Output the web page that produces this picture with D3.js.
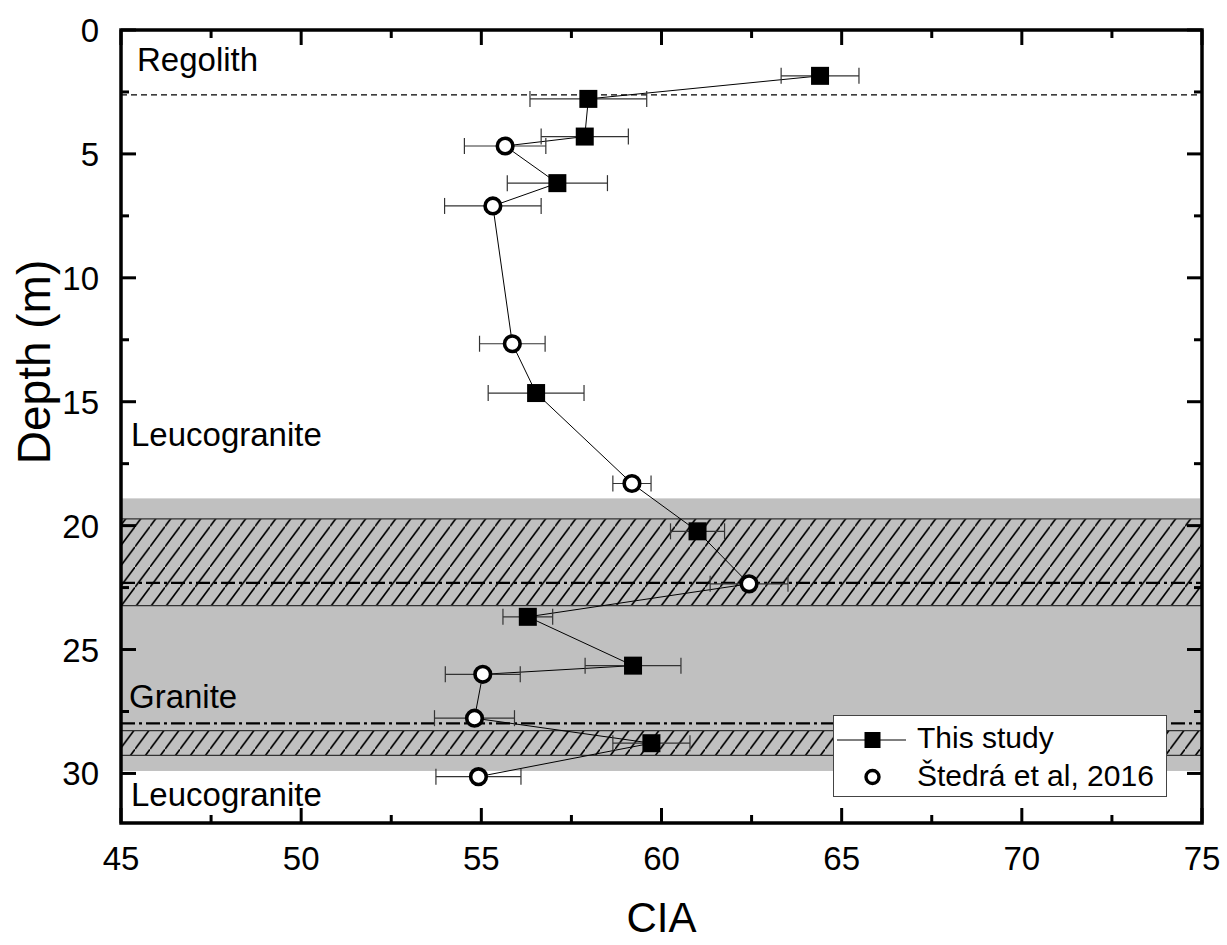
<!DOCTYPE html>
<html><head><meta charset="utf-8">
<script src="https://cdn.jsdelivr.net/npm/d3@7"></script>
<style>
html,body{margin:0;padding:0;background:#fff;}
svg text{font-family:"Liberation Sans",Arial,sans-serif;fill:#000;}
</style></head>
<body>
<svg id="chart" width="1227" height="945"></svg>
<script>
// ---- data ----
const thisStudyCIA   = [64.4, 57.97, 57.87, 57.11, 56.52, 61.0, 56.29, 59.21, 59.72];
const thisStudyDepth = [1.85, 2.78, 4.30, 6.18, 14.65, 20.23, 23.68, 25.65, 28.78];
const thisStudyErr   = [1.08, 1.62, 1.21, 1.39, 1.33, 0.75, 0.69, 1.33, 1.07];

const stedraCIA   = [55.66, 55.32, 55.86, 59.18, 62.43, 55.04, 54.81, 54.92];
const stedraDepth = [4.68, 7.1, 12.66, 18.3, 22.35, 26.0, 27.77, 30.13];
const stedraErr   = [1.13, 1.34, 0.91, 0.53, 1.08, 1.04, 1.11, 1.18];

const grayBand = [18.9, 29.9];
const hatchBands = [[19.73, 23.23], [28.27, 29.27]];
const dashDotDepths = [22.31, 27.98];
const dashedDepth = 2.62;

const zoneLabels = ["Regolith", "Leucogranite", "Granite", "Leucogranite"];
const zoneDepths = [1.64, 16.8, 27.35, 31.3];

const xTicks = [45, 50, 55, 60, 65, 70, 75];
const yTicks = [0, 5, 10, 15, 20, 25, 30];
const legendLabels = ["This study", "Štedrá et al, 2016"];

// ---- layout ----
const L = 121, R = 1202, T = 30, B = 823;
const x = d3.scaleLinear().domain([45, 75]).range([L, R]);
const y = d3.scaleLinear().domain([0, 32]).range([T, B]);

const svg = d3.select("#chart");
const defs = svg.append("defs");
defs.append("clipPath").attr("id", "plotclip").append("rect")
  .attr("x", L).attr("y", T).attr("width", R - L).attr("height", B - T);

const pw = 15, ph = pw * 1.35;
const pat = defs.append("pattern").attr("id", "hatch")
  .attr("patternUnits", "userSpaceOnUse").attr("width", pw).attr("height", ph);
pat.append("rect").attr("width", pw).attr("height", ph).attr("fill", "#c0c0c0");
pat.append("line").attr("x1", -1).attr("y1", ph + 1.35).attr("x2", pw + 1).attr("y2", -1.35)
  .attr("stroke", "#000").attr("stroke-width", 1.6);

const plot = svg.append("g").attr("clip-path", "url(#plotclip)");

// gray band
plot.append("rect").attr("x", L).attr("width", R - 2 - L)
  .attr("y", y(grayBand[0])).attr("height", y(grayBand[1]) - y(grayBand[0]))
  .attr("fill", "#c0c0c0");

// hatched bands
plot.selectAll(".hb").data(hatchBands).enter().append("rect")
  .attr("x", L).attr("width", R - L)
  .attr("y", d => y(d[0])).attr("height", d => y(d[1]) - y(d[0]))
  .attr("fill", "url(#hatch)");
plot.selectAll(".hbl").data(hatchBands.flat()).enter().append("line")
  .attr("x1", L).attr("x2", R).attr("y1", d => y(d)).attr("y2", d => y(d))
  .attr("stroke", "#333").attr("stroke-width", 1.3);

// dash-dot lines
plot.selectAll(".dd").data(dashDotDepths).enter().append("line")
  .attr("x1", L).attr("x2", R).attr("y1", d => y(d)).attr("y2", d => y(d))
  .attr("stroke", "#000").attr("stroke-width", 2.4).attr("stroke-dasharray", "14,4,3,4");

// dashed line
plot.append("line").attr("x1", L).attr("x2", R)
  .attr("y1", y(dashedDepth)).attr("y2", y(dashedDepth))
  .attr("stroke", "#000").attr("stroke-width", 1.2).attr("stroke-dasharray", "6,4");

// zone labels
svg.selectAll(".zl").data(zoneLabels).enter().append("text")
  .attr("x", (d, i) => i === 0 ? 137 : (i === 2 ? 129 : 131))
  .attr("y", (d, i) => y(zoneDepths[i]))
  .attr("font-size", 33).text(d => d);

// combined data
const ts = thisStudyCIA.map((v, i) => ({cia: v, depth: thisStudyDepth[i], err: thisStudyErr[i], s: 0}));
const st = stedraCIA.map((v, i) => ({cia: v, depth: stedraDepth[i], err: stedraErr[i], s: 1}));
const all = ts.concat(st).sort((a, b) => a.depth - b.depth);

// connecting line
plot.append("path").datum(all)
  .attr("d", d3.line().x(d => x(d.cia)).y(d => y(d.depth)))
  .attr("fill", "none").attr("stroke", "#000").attr("stroke-width", 1);

// error bars
const eb = plot.selectAll(".eb").data(all).enter().append("g").attr("stroke", "#333").attr("stroke-width", 1.2);
eb.append("line").attr("x1", d => x(d.cia - d.err)).attr("x2", d => x(d.cia + d.err))
  .attr("y1", d => y(d.depth)).attr("y2", d => y(d.depth));
eb.append("line").attr("x1", d => x(d.cia - d.err)).attr("x2", d => x(d.cia - d.err))
  .attr("y1", d => y(d.depth) - 8).attr("y2", d => y(d.depth) + 8);
eb.append("line").attr("x1", d => x(d.cia + d.err)).attr("x2", d => x(d.cia + d.err))
  .attr("y1", d => y(d.depth) - 8).attr("y2", d => y(d.depth) + 8);

// markers
const sq = 18;
plot.selectAll(".sq").data(ts).enter().append("rect")
  .attr("x", d => x(d.cia) - sq / 2).attr("y", d => y(d.depth) - sq / 2)
  .attr("width", sq).attr("height", sq).attr("fill", "#000");
plot.selectAll(".ci").data(st).enter().append("circle")
  .attr("cx", d => x(d.cia)).attr("cy", d => y(d.depth)).attr("r", 7.8)
  .attr("fill", "#fff").attr("stroke", "#000").attr("stroke-width", 3.6);

// ticks (inward, all four sides)
const tk = svg.append("g").attr("stroke", "#000").attr("stroke-width", 3);
const xMinor = d3.range(47.5, 75, 5);
const yMinor = d3.range(2.5, 32, 5);
xTicks.forEach(v => {
  tk.append("line").attr("x1", x(v)).attr("x2", x(v)).attr("y1", B).attr("y2", B - 15);
  tk.append("line").attr("x1", x(v)).attr("x2", x(v)).attr("y1", T).attr("y2", T + 15);
});
xMinor.forEach(v => {
  tk.append("line").attr("x1", x(v)).attr("x2", x(v)).attr("y1", B).attr("y2", B - 8);
  tk.append("line").attr("x1", x(v)).attr("x2", x(v)).attr("y1", T).attr("y2", T + 8);
});
yTicks.forEach(v => {
  tk.append("line").attr("y1", y(v)).attr("y2", y(v)).attr("x1", L).attr("x2", L + 15);
  tk.append("line").attr("y1", y(v)).attr("y2", y(v)).attr("x1", R).attr("x2", R - 15);
});
yMinor.forEach(v => {
  tk.append("line").attr("y1", y(v)).attr("y2", y(v)).attr("x1", L).attr("x2", L + 8);
  tk.append("line").attr("y1", y(v)).attr("y2", y(v)).attr("x1", R).attr("x2", R - 8);
});

// frame
svg.append("rect").attr("x", L).attr("y", T).attr("width", R - L).attr("height", B - T)
  .attr("fill", "none").attr("stroke", "#000").attr("stroke-width", 3.5);

// tick labels
svg.selectAll(".xl").data(xTicks).enter().append("text")
  .attr("x", d => x(d)).attr("y", 870).attr("text-anchor", "middle")
  .attr("font-size", 33).text(d => d);
svg.selectAll(".yl").data(yTicks).enter().append("text")
  .attr("x", 99).attr("y", d => y(d) + 12).attr("text-anchor", "end")
  .attr("font-size", 33).text(d => d);

// axis titles
svg.append("text").attr("x", (L + R) / 2).attr("y", 932).attr("text-anchor", "middle")
  .attr("font-size", 42).text("CIA");
svg.append("text").attr("transform", "translate(50,362) rotate(-90)").attr("text-anchor", "middle")
  .attr("font-size", 46).text("Depth (m)");

// legend
const lg = svg.append("g");
lg.append("rect").attr("x", 833.5).attr("y", 715.5).attr("width", 333).attr("height", 81)
  .attr("fill", "#fff").attr("stroke", "#444").attr("stroke-width", 1);
lg.append("line").attr("x1", 837).attr("x2", 906).attr("y1", 740).attr("y2", 740)
  .attr("stroke", "#000").attr("stroke-width", 1);
lg.append("rect").attr("x", 872.5 - 8).attr("y", 740 - 8).attr("width", 16).attr("height", 16).attr("fill", "#000");
lg.append("circle").attr("cx", 872.5).attr("cy", 777).attr("r", 6.5)
  .attr("fill", "#fff").attr("stroke", "#000").attr("stroke-width", 3.4);
lg.selectAll(".lt").data(legendLabels).enter().append("text")
  .attr("x", 917).attr("y", (d, i) => 748 + i * 38).attr("font-size", 30).text(d => d);
</script>
</body></html>
